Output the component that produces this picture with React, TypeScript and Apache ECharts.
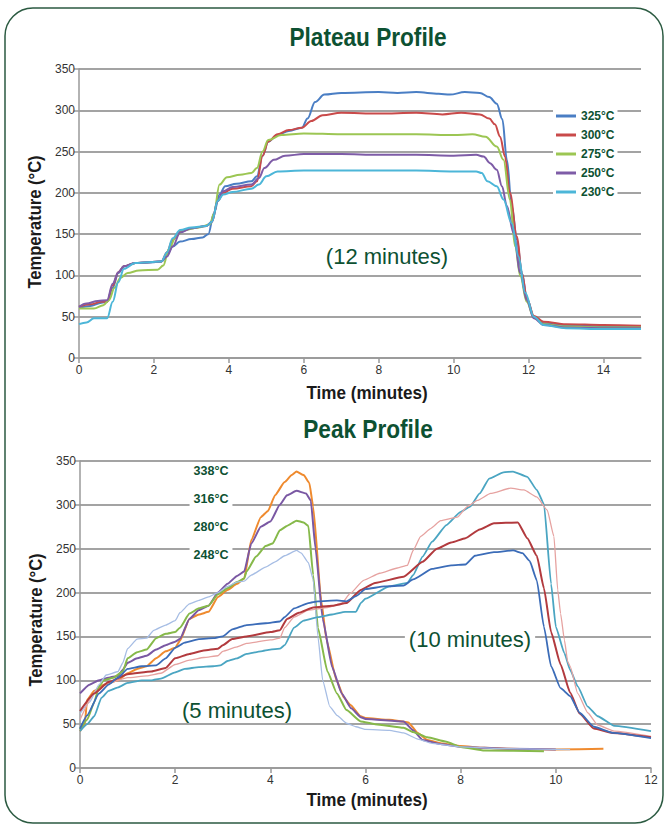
import React, { useEffect, useRef } from "react";
import * as echarts from "echarts";

const FONT = "'Liberation Sans', Arial, 'DejaVu Sans', sans-serif";
const GREEN = "#0d5132";

// ---------- Plateau profile (time in minutes, temperature °C) ----------
const plateauNames = ["325°C", "300°C", "275°C", "250°C", "230°C"];
const plateauColors = ["#4a7ec4", "#c94a4a", "#9cc653", "#7e5ca7", "#4cb6d8"];

const plateau325: number[][] = [[0,61],[0.3,63],[0.6,67],[0.75,68],[0.9,85],[1.05,103],[1.2,111],[1.5,115],[2.0,116],[2.2,117],[2.35,125],[2.5,135],[2.7,141],[3.0,144],[3.3,146],[3.45,150],[3.6,175],[3.75,198],[3.9,208],[4.2,211],[4.6,214],[4.75,220],[4.9,245],[5.05,262],[5.3,270],[5.6,275],[5.95,279],[6.1,290],[6.3,310],[6.55,319],[7.0,321],[8,322],[8.5,321],[9,322],[9.6,320],[9.9,319],[10.3,322],[10.7,321],[10.95,316],[11.15,308],[11.3,289],[11.42,240],[11.55,184],[11.69,143],[11.82,103],[11.96,71],[12.14,50],[12.4,42],[12.95,40],[14,38],[15,38]];
const plateau300: number[][] = [[0,62],[0.3,65],[0.6,68],[0.75,68],[0.9,88],[1.05,104],[1.2,111],[1.5,115],[2.2,117],[2.35,128],[2.5,143],[2.7,153],[3.0,157],[3.4,160],[3.55,165],[3.7,190],[3.85,200],[4.1,205],[4.6,208],[4.75,214],[4.9,245],[5.05,262],[5.3,271],[5.6,276],[5.95,279],[6.2,287],[6.5,294],[7,297],[8,296],[9,297],[9.7,295],[10.2,297],[10.7,295],[10.95,290],[11.1,283],[11.24,268],[11.37,244],[11.5,200],[11.69,147],[11.82,103],[11.96,71],[12.14,51],[12.4,44],[13,41],[14,40],[15,39]];
const plateau275: number[][] = [[0,60],[0.4,60],[0.65,64],[0.8,70],[0.95,85],[1.1,97],[1.3,103],[1.6,106],[2.1,107],[2.25,112],[2.4,132],[2.6,148],[2.8,155],[3.2,158],[3.5,162],[3.6,175],[3.75,210],[3.95,219],[4.3,222],[4.6,224],[4.75,230],[4.9,250],[5.05,264],[5.4,270],[6,272],[7,271],[8,271],[9,271],[10,270],[10.5,271],[10.85,268],[11.15,256],[11.33,240],[11.5,192],[11.64,135],[11.78,99],[11.95,68],[12.14,49],[12.4,41],[13,38],[14,37],[15,37]];
const plateau250: number[][] = [[0,62],[0.2,66],[0.5,69],[0.75,70],[0.9,90],[1.05,104],[1.2,111],[1.5,115],[2.2,117],[2.35,123],[2.5,135],[2.7,152],[3.0,157],[3.4,160],[3.55,165],[3.7,190],[3.85,202],[4.1,207],[4.6,210],[4.8,218],[4.95,230],[5.2,240],[5.5,245],[6,247],[7,247],[8,246],[9,246],[10,245],[10.6,246],[10.8,244],[10.97,236],[11.15,228],[11.29,208],[11.42,184],[11.6,151],[11.78,103],[11.95,70],[12.14,48],[12.4,40],[13,37],[14,36],[15,36]];
const plateau230: number[][] = [[0,41],[0.2,43],[0.4,48],[0.75,48],[0.9,68],[1.05,92],[1.2,108],[1.5,115],[2.2,117],[2.35,128],[2.5,145],[2.7,155],[3.0,158],[3.4,160],[3.55,165],[3.7,190],[3.85,198],[4.1,201],[4.6,205],[4.8,210],[5.0,220],[5.3,226],[6,227],[7,227],[8,227],[9,227],[10,226],[10.6,226],[10.75,224],[10.9,214],[11.15,208],[11.33,192],[11.55,163],[11.73,123],[11.91,79],[12.14,50],[12.4,40],[13,36],[14,35],[15,35]];
const plateauData = [plateau325, plateau300, plateau275, plateau250, plateau230];

// ---------- Peak profile ----------
const peakNames = ["5 min 338°C", "5 min 316°C", "5 min 280°C", "5 min 248°C", "10 min 338°C", "10 min 318°C", "10 min 280°C", "10 min 248°C"];
const peakColors = ["#ef8a2e", "#7a58a3", "#86b94a", "#a6bde4", "#4aa5c2", "#e6a2a0", "#b23a3e", "#3b6cb8"];
const peakWidths = [2, 2, 2, 1.3, 1.8, 1.3, 2, 1.8];

const short338: number[][] = [[0,42],[0.1,50],[0.15,78],[0.3,88],[0.5,95],[0.8,100],[1.0,108],[1.2,113],[1.4,116],[1.6,125],[1.8,133],[2.0,137],[2.1,145],[2.3,170],[2.5,175],[2.7,178],[2.9,195],[3.1,203],[3.3,210],[3.45,216],[3.6,260],[3.8,286],[3.95,293],[4.1,311],[4.3,326],[4.45,334],[4.55,338],[4.7,334],[4.82,325],[4.9,298],[5.07,191],[5.18,146],[5.39,100],[5.55,80],[5.68,72],[5.9,59],[6.0,57],[6.5,55],[6.9,52],[7.1,40],[7.3,32],[7.6,28],[8,25],[8.5,23],[9,22],[10,21],[11,22]];
const short316: number[][] = [[0,85],[0.2,95],[0.4,100],[0.6,103],[0.8,105],[0.9,112],[1.0,120],[1.2,125],[1.4,128],[1.6,135],[1.8,140],[2.0,144],[2.1,147],[2.3,170],[2.5,180],[2.7,185],[2.9,200],[3.1,210],[3.3,219],[3.45,224],[3.6,256],[3.8,275],[4.0,281],[4.2,300],[4.35,311],[4.55,316],[4.75,313],[4.85,305],[4.95,250],[5.1,170],[5.3,115],[5.5,85],[5.7,68],[5.9,58],[6,56],[6.8,53],[7.0,43],[7.2,32],[7.6,27],[8,24],[9,22],[10,21]];
const short280: number[][] = [[0,44],[0.15,55],[0.3,75],[0.4,93],[0.5,100],[0.7,103],[0.9,110],[1.0,125],[1.2,132],[1.4,135],[1.6,148],[1.8,153],[2.0,155],[2.1,160],[2.3,176],[2.5,182],[2.7,185],[2.9,198],[3.1,205],[3.3,212],[3.45,216],[3.5,224],[3.7,241],[3.9,253],[4.05,256],[4.2,271],[4.35,276],[4.55,282],[4.7,280],[4.8,276],[4.9,220],[5.0,160],[5.2,110],[5.4,85],[5.6,66],[5.9,53],[6.2,50],[6.8,46],[7.0,41],[7.3,35],[7.7,30],[8,24],[8.5,20],[9.75,19]];
const short248: number[][] = [[0,62],[0.2,75],[0.4,95],[0.55,106],[0.8,110],[0.9,120],[1.0,136],[1.2,147],[1.4,148],[1.55,157],[1.8,163],[2.0,168],[2.1,177],[2.3,187],[2.5,191],[2.7,195],[2.9,200],[3.1,207],[3.3,212],[3.45,213],[3.6,220],[3.9,229],[4.1,235],[4.3,242],[4.55,248],[4.65,245],[4.8,234],[4.9,215],[5.0,150],[5.1,100],[5.25,70],[5.4,60],[5.6,51],[5.8,47],[6,44],[6.5,43],[6.8,40],[7.1,33],[7.4,28],[8,24],[9,22],[10.3,21]];
const long338: number[][] = [[0,42],[0.15,50],[0.3,59],[0.45,80],[0.6,88],[0.8,92],[1.0,97],[1.3,100],[1.5,100],[1.7,102],[2.0,109],[2.2,113],[2.5,115],[2.8,116],[2.95,117],[3.1,122],[3.3,125],[3.5,130],[3.8,133],[4.0,135],[4.2,136],[4.3,140],[4.5,160],[4.7,168],[5.0,172],[5.3,175],[5.57,178],[5.8,178],[5.9,188],[6.0,193],[6.5,207],[6.88,211],[7.0,220],[7.2,241],[7.4,258],[7.7,277],[8.0,292],[8.2,298],[8.4,313],[8.6,330],[8.9,337],[9.1,338],[9.4,332],[9.6,317],[9.75,301],[9.9,210],[10.0,161],[10.18,131],[10.3,112],[10.46,93],[10.67,70],[10.88,59],[11.23,48],[12,42]];
const long318: number[][] = [[0,55],[0.3,85],[0.6,97],[1.0,103],[1.4,105],[1.7,108],[2.0,118],[2.3,123],[2.6,126],[2.9,128],[3.0,133],[3.3,138],[3.5,142],[4.0,146],[4.2,148],[4.3,160],[4.5,172],[4.8,180],[5.2,183],[5.5,188],[5.68,199],[5.96,214],[6.3,222],[6.67,228],[6.88,231],[7.0,248],[7.16,264],[7.37,273],[7.58,282],[7.93,286],[8.14,298],[8.35,305],[8.63,313],[9.05,319],[9.33,317],[9.6,309],[9.82,294],[9.96,264],[10.04,203],[10.1,176],[10.18,146],[10.25,121],[10.3,116],[10.46,85],[10.67,63],[10.88,49],[11.23,42],[12,36]];
const long280: number[][] = [[0,65],[0.3,85],[0.6,98],[1.0,107],[1.5,110],[1.8,114],[2.0,125],[2.3,130],[2.6,134],[2.9,136],[3.0,140],[3.2,147],[3.5,150],[4.0,155],[4.2,157],[4.35,170],[4.6,177],[4.9,183],[5.3,185],[5.6,188],[5.9,203],[6.2,211],[6.8,218],[7.2,235],[7.5,250],[7.8,257],[8.1,262],[8.4,272],[8.7,279],[9.2,280],[9.4,262],[9.6,242],[9.75,205],[9.9,155],[10.1,118],[10.3,86],[10.5,62],[10.8,45],[11.2,40],[12,35]];
const long248: number[][] = [[0,45],[0.15,60],[0.4,85],[0.6,95],[0.8,103],[1.0,113],[1.3,116],[1.6,117],[1.8,125],[2.0,137],[2.2,143],[2.5,147],[2.8,148],[3.0,150],[3.2,158],[3.5,163],[3.9,165],[4.2,167],[4.3,172],[4.5,182],[4.8,188],[5.0,190],[5.4,191],[5.6,190],[5.8,196],[6.0,204],[6.4,207],[6.8,208],[7.0,215],[7.4,227],[7.8,231],[8.1,232],[8.3,242],[8.7,246],[9.1,248],[9.3,245],[9.45,236],[9.6,214],[9.75,161],[9.9,116],[10.1,91],[10.3,82],[10.5,63],[10.8,47],[11.2,40],[12,34]];
const peakData = [short338, short316, short280, short248, long338, long318, long280, long248];

const peakLabels = ["338°C", "316°C", "280°C", "248°C"];
const yTicks = { min: 0, max: 350, interval: 50 };

export default function App() {
  const ref = useRef<HTMLDivElement>(null);
  useEffect(() => {
    if (!ref.current) return;
    const chart = echarts.init(ref.current, null, { renderer: "svg" });
    const axisColor = "#9a9a9a";
    const labelStyle = { fontFamily: FONT, fontSize: 12, color: "#333" };
    const xAxisBase = {
      type: "value" as const,
      min: 0,
      interval: 2,
      axisLine: { show: true, lineStyle: { color: axisColor, width: 1.5 } },
      axisTick: { show: true, length: 5, lineStyle: { color: axisColor, width: 1.5 } },
      axisLabel: { ...labelStyle, margin: 6, showMaxLabel: false },
      splitLine: { show: false },
    };
    const yAxisBase = {
      type: "value" as const,
      ...yTicks,
      axisLine: { show: true, lineStyle: { color: axisColor, width: 1.5 } },
      axisTick: { show: true, length: 5, lineStyle: { color: axisColor, width: 1.5 } },
      axisLabel: { ...labelStyle, margin: 4 },
      splitLine: { show: true, lineStyle: { color: "#a3a3a3", width: 2 } },
    };
    const textEl = (
      text: string, x: number, y: number, size: number, weight: string,
      bg: boolean, color: string = GREEN, scaleX = 1, rotation = 0
    ) => ({
      type: "text",
      x,
      y,
      z: 100,
      scaleX,
      rotation,
      style: {
        text,
        x: 0,
        y: 0,
        align: "center",
        verticalAlign: "middle",
        fontFamily: FONT,
        fontSize: size,
        fontWeight: weight,
        fill: color,
        backgroundColor: bg ? "#fff" : undefined,
        padding: bg ? [1, 4] : 0,
      },
    });
    const series: any[] = [];
    plateauData.forEach((d, i) => {
      series.push({
        name: plateauNames[i],
        type: "line",
        xAxisIndex: 0,
        yAxisIndex: 0,
        data: d,
        showSymbol: false,
        symbol: "none",
        smooth: 0.35,
        smoothMonotone: "x",
        lineStyle: { color: plateauColors[i], width: 2 },
        itemStyle: { color: plateauColors[i] },
      });
    });
    peakData.forEach((d, i) => {
      series.push({
        name: peakNames[i],
        type: "line",
        xAxisIndex: 1,
        yAxisIndex: 1,
        data: d,
        showSymbol: false,
        symbol: "none",
        smooth: 0.15,
        smoothMonotone: "x",
        lineStyle: { color: peakColors[i], width: peakWidths[i] },
        itemStyle: { color: peakColors[i] },
      });
    });
    const dark = "#1a1a1a";
    chart.setOption({
      animation: false,
      backgroundColor: "#fff",
      grid: [
        { left: 79, top: 69, width: 562, height: 289 },
        { left: 80, top: 461, width: 571, height: 307 },
      ],
      xAxis: [
        { ...xAxisBase, gridIndex: 0, max: 15 },
        { ...xAxisBase, gridIndex: 1, max: 12, axisLabel: { ...labelStyle, margin: 6 } },
      ],
      yAxis: [
        { ...yAxisBase, gridIndex: 0 },
        { ...yAxisBase, gridIndex: 1 },
      ],
      legend: {
        data: plateauNames,
        orient: "vertical",
        left: 553,
        top: 107,
        icon: "rect",
        itemWidth: 20,
        itemHeight: 3,
        itemGap: 5,
        padding: [2, 3],
        backgroundColor: "#fff",
        textStyle: { fontFamily: FONT, fontSize: 12, fontWeight: "bold", color: GREEN, lineHeight: 14 },
        z: 50,
      },
      graphic: [
        {
          type: "rect",
          z: 100,
          shape: { x: 5, y: 8, width: 658, height: 815, r: 28 },
          style: { fill: "none", stroke: "#2b5a41", lineWidth: 1.5 },
        },
        textEl("Plateau Profile", 368, 37, 26, "bold", false, GREEN, 0.87),
        textEl("Peak Profile", 368, 429, 26, "bold", false, GREEN, 0.87),
        textEl("Temperature (°C)", 35, 222, 18, "bold", false, dark, 0.92, Math.PI / 2),
        textEl("Temperature (°C)", 36, 620, 18, "bold", false, dark, 0.92, Math.PI / 2),
        textEl("Time (minutes)", 367, 393, 18, "bold", false, dark, 0.95),
        textEl("Time (minutes)", 367, 800, 18, "bold", false, dark, 0.95),
        textEl("(12 minutes)", 387, 256, 22, "normal", true),
        textEl("(10 minutes)", 470, 639, 22, "normal", true),
        textEl("(5 minutes)", 237, 710, 22, "normal", true),
        ...peakLabels.map((t, i) => textEl(t, 211, 471 + i * 28, 12.5, "bold", true)),
      ],
      series,
    });
    return () => chart.dispose();
  }, []);
  return <div ref={ref} style={{ position: "absolute", left: 0, top: 0, width: 666, height: 825 }} />;
}
